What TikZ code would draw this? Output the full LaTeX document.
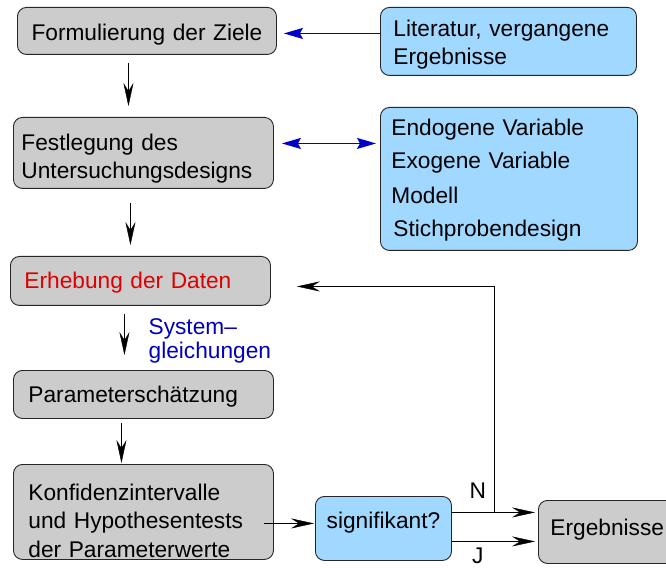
\documentclass[tikz,border=0pt]{standalone}
\usepackage{fontspec}
\setmainfont{Liberation Sans}
\usetikzlibrary{arrows.meta,calc}
\definecolor{boxgrey}{HTML}{CCCCCC}
\definecolor{boxblue}{HTML}{A0D8FF}
\definecolor{linkblue}{HTML}{0000CC}
\definecolor{textred}{HTML}{DD0000}
\definecolor{textblue}{HTML}{0000BB}
\tikzset{bluetip/.tip={Stealth[length=19pt,width=11pt,inset=3pt]}}

\begin{document}
\begin{tikzpicture}[x=1pt, y=1pt, >={Stealth[length=23pt,width=10pt,inset=8pt]},
    every node/.style={font=\fontsize{22.7pt}{28.5pt}\selectfont},
    greybox/.style={draw=black!85, line width=0.9pt, rounded corners=9pt, fill=boxgrey,
        align=left, anchor=north west, inner ysep=0pt},
    bluebox/.style={greybox, fill=boxblue},
    bluelink/.style={draw=linkblue, line width=1.1pt}]
    \useasboundingbox (0,0) rectangle (666,568);

    \node[greybox, align=center, text width=233pt, inner xsep=13pt, text height=33pt, text depth=14pt] (ziele) at (17,561) {Formulierung der Ziele};
    \node[bluebox, text width=230pt, inner xsep=13pt, text height=29pt, text depth=39pt] (lit) at (380,561) {Literatur, vergangene\\Ergebnisse};
    \node[greybox, text width=244pt, inner xsep=8pt, text height=33pt, text depth=38pt] (design) at (13,451) {Festlegung des\\Untersuchungsdesigns};
    \node[bluebox, text width=235pt, inner xsep=11pt, text height=28pt, text depth=115pt] (vars) at (380,461) {Endogene Variable\\[4.5pt]Exogene Variable\\[6.5pt]Modell\\[4.5pt]\hspace*{2pt}Stichprobendesign};
    \node[greybox, text=textred, text width=232pt, inner xsep=14pt, text height=32pt, text depth=17pt] (daten) at (10,312) {Erhebung der Daten};
    \node[greybox, text width=230pt, inner xsep=15pt, text height=32pt, text depth=16pt] (schaetz) at (13,198) {Parameterschätzung};
    \node[greybox, text width=230pt, inner xsep=15pt, text height=36pt, text depth=59pt] (konf) at (13,104) {Konfidenzintervalle\\und Hypothesentests\\der Parameterwerte};
    \node[bluebox, align=center, minimum width=136pt, text height=32pt, text depth=32pt] (sig) at (315,72) {signifikant?};
    \node[greybox, text width=128pt, inner xsep=12pt, text height=35pt, text depth=28pt] (erg) at (538,68) {Ergebnisse};

    \draw[->, shorten <=8pt, shorten >=11pt] ([xshift=-18.5pt]ziele.south) -- ([xshift=-15pt]design.north);
    \draw[->, shorten <=14pt, shorten >=11pt] ([xshift=-13pt]design.south) -- ([xshift=-10pt]daten.north);
    \draw[->, shorten <=8pt, shorten >=15pt] ([xshift=-16pt]daten.south) -- ([xshift=-19pt]schaetz.north)
        node[midway, anchor=base west, xshift=24pt, yshift=3.5pt, inner sep=0pt, text=textblue,
             text width=125pt, align=left, font=\fontsize{22.7pt}{24pt}\selectfont] (label) {System--\\gleichungen};
    \draw[->, shorten <=4pt, shorten >=1pt] ([xshift=-22pt]schaetz.south) -- ([xshift=-22pt]konf.north);
    \draw[->, shorten >=1pt] ([xshift=-10pt,yshift=-11.5pt]konf.east) -- ([yshift=5pt]sig.west);

    \draw[->, shorten >=3pt] ([yshift=16pt]sig.east) -- ([yshift=19.5pt]erg.west)
        node[pos=0.3, above=10.5pt] (n) {N};
    \draw[->, shorten >=3pt] ([yshift=-13pt]sig.east) -- ([yshift=-9.5pt]erg.west)
        node[pos=0.3, below=2.5pt] (j) {J};
    \coordinate (split) at ([xshift=42pt,yshift=16pt]sig.east);
    \draw[->, shorten >=26pt] (split) |- ([yshift=-5.5pt]daten.east);

    \draw[bluelink, -bluetip, shorten >=7pt] ([yshift=8pt]lit.west) -- ([yshift=-2.5pt]ziele.east);
    \draw[bluelink, bluetip-bluetip, shorten <=8pt, shorten >=4pt] ([yshift=9.5pt]design.east) -- ([yshift=35.5pt]vars.west);
\end{tikzpicture}
\end{document}
